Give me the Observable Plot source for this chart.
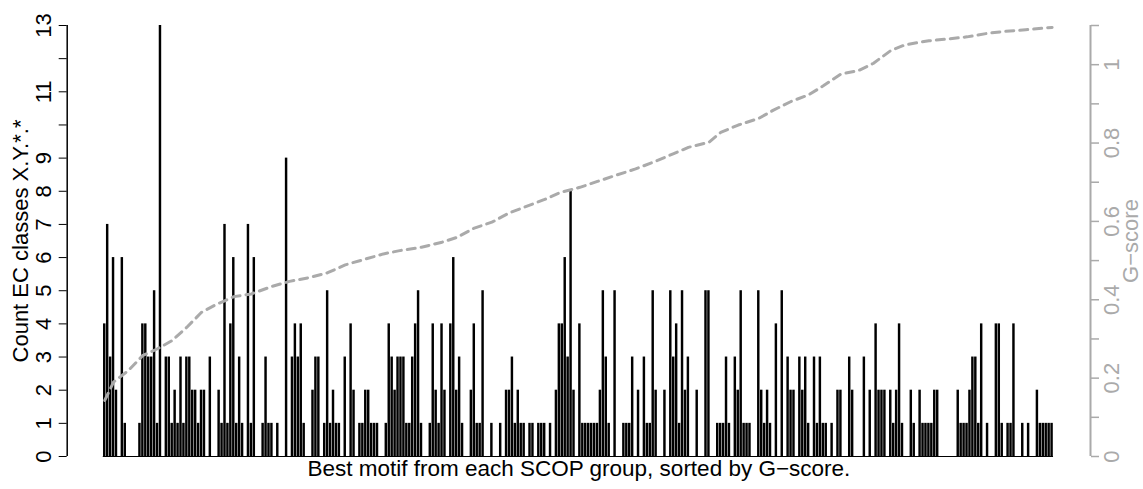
<!DOCTYPE html>
<html><head><meta charset="utf-8">
<script src="https://cdn.jsdelivr.net/npm/d3@7"></script>
<script src="https://cdn.jsdelivr.net/npm/@observablehq/plot@0.6"></script>
<style>body{margin:0;background:#fff;}</style>
</head><body><div id="chart"></div>
<script>
// Count of EC classes X.Y.*.* per best motif (one bar per SCOP group), in G-score order
const counts = [
  4,7,3,6,2,0,6,1,0,0,0,0,1,4,4,3,3,5,1,13,0,3,3,1,2,1,3,1,3,3,2,2,1,2,2,0,3,0,
  0,2,1,7,1,4,6,1,3,1,0,7,1,6,0,0,1,3,1,1,0,1,0,0,9,0,3,4,3,4,1,0,0,2,3,3,0,1,5,
  1,2,1,1,0,3,0,4,2,0,1,1,2,2,1,1,1,0,0,1,4,3,2,3,3,3,1,1,3,4,5,1,0,0,1,4,2,1,4,
  2,0,4,6,2,3,1,0,0,2,4,1,1,5,0,0,1,0,0,1,0,2,2,3,1,2,1,1,0,1,1,0,1,1,1,0,1,0,2,4,
  4,6,3,8,2,0,4,1,1,1,1,1,1,2,5,3,1,0,5,0,0,1,1,1,3,0,2,0,3,1,1,5,2,0,0,2,0,5,3,
  4,1,5,2,3,0,0,2,0,0,5,5,0,0,1,1,1,3,1,0,3,2,5,1,1,1,0,0,5,2,1,2,1,0,4,0,5,0,3,
  2,2,0,3,2,3,1,0,3,1,3,1,1,0,1,0,2,2,0,0,3,2,0,0,0,3,0,2,0,4,2,2,2,0,2,1,2,4,1,
  0,0,2,1,0,2,1,1,1,1,2,2,0,0,0,0,0,0,2,1,1,1,2,3,3,1,4,0,1,0,0,4,4,1,0,1,1,4,0,0,1,0,1,0,0,2,1,1,1,1,1
];
// G-score readings at bar positions
const gIndex = [0,3,8,13,18,23,28,33,38,44,50,57,63,70,76,82,88,95,101,108,115,120,126,132,138,144,150,155,162,168,174,181,187,194,199,206,210,216,223,228,234,240,245,251,257,262,268,273,281,288,294,301,307,314,321,323];
const gScore = [0.143,0.19,0.219,0.258,0.275,0.296,0.33,0.368,0.388,0.408,0.415,0.434,0.447,0.457,0.469,0.489,0.502,0.517,0.526,0.534,0.547,0.559,0.583,0.598,0.622,0.639,0.656,0.673,0.687,0.702,0.717,0.734,0.751,0.773,0.789,0.802,0.827,0.846,0.863,0.884,0.906,0.923,0.946,0.976,0.985,1.003,1.036,1.051,1.061,1.066,1.071,1.08,1.085,1.089,1.094,1.095];
const leftTicks = [0,1,2,3,4,5,6,7,8,9,10,11,12,13];
const leftLabels = [0,1,2,3,4,5,6,7,8,9,11,13];
const rightTicks = [0,0.1,0.2,0.3,0.4,0.5,0.6,0.7,0.8,0.9,1,1.1];
const rightLabels = ["0","0.2","0.4","0.6","0.8","1"];
const yTitle = "Count EC classes X.Y.*.*";
const y2Title = "G\u2212score";
const xTitle = "Best motif from each SCOP group, sorted by G\u2212score.";

const countMax = 13, gMax = 1.1;
const k = countMax / gMax;
const gray = "#aaaaaa";
const xDomain = [-12.3, counts.length + 12.6];
const bars = counts.map((v, i) => ({i, v}));
const gline = gIndex.map((i, j) => ({i, g: gScore[j]}));

const chart = Plot.plot({
  width: 1143, height: 489,
  marginLeft: 66.7, marginRight: 53, marginTop: 25, marginBottom: 33,
  x: {domain: xDomain, axis: null},
  y: {domain: [0, countMax]},
  style: {fontFamily: "'Liberation Sans', Arial, Helvetica, sans-serif", fontSize: "22px", background: "#fff", color: "#000"},
  marks: [
    Plot.rectY(bars, {x1: d => d.i + 0.083, x2: d => d.i + 0.917, y1: 0, y2: "v", fill: "#000"}),
    Plot.ruleY([0], {x1: 0, x2: counts.length, stroke: "#000", strokeWidth: 1}),
    Plot.line(gline, {x: d => d.i + 0.5, y: d => d.g * k, stroke: gray, strokeWidth: 3, strokeDasharray: "8,6"}),
    Plot.ruleX([xDomain[0]], {y1: 0, y2: countMax, stroke: "#000", strokeWidth: 1.5}),
    Plot.axisY({anchor: "left", ticks: leftTicks, tickSize: 8, tickPadding: 8, tickRotate: -90, label: null,
      tickFormat: d => leftLabels.includes(d) ? String(d) : ""}),
    Plot.ruleX([xDomain[1]], {y1: 0, y2: countMax, stroke: gray, strokeWidth: 2}),
    Plot.axisY({anchor: "right", ticks: rightTicks.map(t => t * k), tickSize: 8, label: null,
      stroke: gray, strokeWidth: 1.5, tickFormat: () => ""}),
    Plot.text(rightLabels, {y: d => +d * k, text: d => d, frameAnchor: "right", dx: 21, rotate: -90,
      textAnchor: "middle", lineAnchor: "middle", fill: gray}),
    Plot.text([yTitle], {frameAnchor: "left", dx: -46, rotate: -90, textAnchor: "middle", fill: "#000"}),
    Plot.text([y2Title], {frameAnchor: "right", dx: 40, rotate: -90, textAnchor: "middle", fill: gray}),
    Plot.text([xTitle], {frameAnchor: "bottom", dy: 19, textAnchor: "middle", fontSize: 22.5, fill: "#000"})
  ]
});
document.getElementById("chart").appendChild(chart);
</script>
</body></html>
